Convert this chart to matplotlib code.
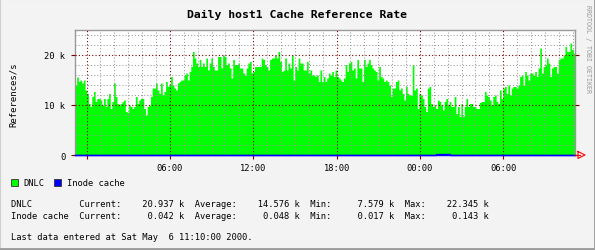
import numpy as np
import matplotlib
matplotlib.use("Agg")
import matplotlib.pyplot as plt
from matplotlib.patches import Rectangle
from matplotlib.lines import Line2D

# DNLC references/s (k), read left to right over 36 hours
dnlc_k = [
    14.0, 15.6, 14.7, 15.0, 14.4, 15.0, 13.0, 12.3, 10.3, 9.7, 11.7, 12.7, 10.7, 11.3, 11.3, 11.0,
    10.0, 11.3, 9.7, 11.3, 12.3, 9.3, 10.7, 14.4, 11.7, 10.3, 10.0, 10.3, 10.7, 11.0, 8.7, 8.5,
    10.0, 9.7, 9.3, 9.7, 11.7, 10.3, 11.0, 11.3, 11.3, 9.3, 8.0, 9.7, 10.0, 11.7, 13.4, 13.4,
    14.4, 13.0, 12.3, 14.4, 12.0, 12.7, 14.7, 13.7, 14.0, 15.7, 14.0, 13.4, 13.0, 14.4, 14.7, 15.0,
    15.0, 16.0, 16.4, 15.0, 16.7, 17.7, 20.7, 19.4, 18.4, 17.7, 19.1, 17.7, 18.4,
    17.7, 19.4, 17.0, 18.4, 19.4, 17.7, 17.0, 17.0, 19.7, 19.7, 17.4, 20.0, 19.7, 18.1, 18.4, 17.4,
    15.4, 19.1, 18.1, 18.1, 18.4, 17.4, 17.4, 16.4, 16.0, 17.4, 18.4, 18.7, 16.4, 16.7, 17.7, 17.7,
    17.7, 17.7, 19.4, 19.1, 18.1, 17.7, 17.0, 19.1, 19.4, 19.4, 20.0, 19.4, 20.7, 18.7, 16.7, 17.0,
    19.4, 17.0, 18.4, 17.4, 20.0, 15.0, 17.7, 17.0, 19.4, 18.4, 18.4, 17.0, 17.0, 18.7, 16.4, 17.0,
    16.0, 16.0, 15.7, 16.0, 14.7, 17.0, 14.7, 15.7, 14.7, 15.4, 16.4,
    16.0, 16.7, 15.7, 17.0, 15.7, 15.4, 15.0, 14.7, 15.4, 18.1, 16.7, 18.4, 18.7, 17.0, 17.4, 15.4,
    19.1, 17.4, 17.4, 14.7, 19.1, 17.7, 18.4, 19.1, 18.1, 17.4, 17.0, 16.7, 15.0, 17.7, 15.7, 15.4,
    14.7, 15.0, 14.7, 14.0, 11.7, 13.4, 13.4, 14.7, 15.0, 13.0, 13.4, 12.3, 11.0, 13.7, 12.3, 12.0,
    12.0, 18.1, 13.0, 13.4, 9.3, 12.3, 12.0, 11.3, 9.7, 8.7, 13.4, 13.7, 10.3, 9.7, 10.0, 9.3,
    11.0, 10.7, 10.0, 9.0, 10.7, 11.3, 10.0, 10.7, 9.7, 9.7, 11.7,
    8.3, 9.7, 7.7, 10.3, 7.7, 9.7, 11.3, 9.7, 10.3, 10.3, 9.7, 9.7, 9.3, 9.3, 10.5, 10.7,
    10.7, 12.7, 12.0, 11.7, 11.0, 10.0, 11.7, 12.0, 10.7, 10.3, 13.0, 11.3, 13.4, 13.7, 12.3, 14.0,
    12.0, 13.4, 13.7, 13.7, 13.4, 14.0, 15.7, 16.0, 14.0, 16.7, 16.0, 15.0, 16.4, 16.4, 16.0, 16.7,
    15.7, 17.4, 21.4, 16.4, 17.7, 18.1, 19.4, 18.4, 15.7, 17.4, 17.7, 17.7, 16.4, 19.1, 19.4, 19.4,
    20.0, 21.7, 20.7, 20.7, 22.4, 21.1, 20.4,
]

# Inode cache references/s (k), hourly
inode_k = [
    0.04, 0.04, 0.04, 0.04, 0.04, 0.04, 0.04, 0.04, 0.04, 0.04, 0.04, 0.04,
    0.04, 0.04, 0.04, 0.04, 0.04, 0.04, 0.04, 0.04, 0.04, 0.04, 0.04, 0.04,
    0.05, 0.04, 0.14, 0.03, 0.06, 0.08, 0.04, 0.02, 0.04, 0.04, 0.04, 0.04,
]

span_h = 36.0
midnight_offset = 50 / 60  # first 00:00 after the 23:10 start
tick_labels = ["", "06:00", "12:00", "18:00", "00:00", "06:00"]
y_major = [0, 10000, 20000]
y_labels = ["0", "10 k", "20 k"]

series_names = ["DNLC", "Inode cache"]
series_colors = ["#00FF00", "#0000FF"]
current = ["20.937 k", "0.042 k"]
average = ["14.576 k", "0.048 k"]
minimum = ["7.579 k", "0.017 k"]
maximum = ["22.345 k", "0.143 k"]
last_update = "Last data entered at Sat May  6 11:10:00 2000."

W, H = 595, 251
fig = plt.figure(figsize=(W / 100, H / 100), dpi=100, facecolor="#F3F3F3")
ax = fig.add_axes([75 / W, 1 - 156 / H, 500 / W, 125 / H])
ax.set_facecolor("white")

mono = "DejaVu Sans Mono"

dn = np.array(dnlc_k) * 1000
edges = np.linspace(0, span_h, len(dn) + 1)
ax.fill_between(edges, np.append(dn, dn[-1]), step="post", color=series_colors[0],
                linewidth=0, zorder=1)
ino = np.array(inode_k) * 1000
ie = np.linspace(0, span_h, len(ino) + 1)
ax.step(ie, np.append(ino, ino[-1]), where="post", color=series_colors[1], lw=1.0,
        zorder=6, clip_on=False)

ax.set_xlim(0, span_h)
ax.set_ylim(0, 25000)

majors = [midnight_offset + 6 * k for k in range(6)]
minors = [midnight_offset + k for k in range(36)]
ax.set_xticks(majors)
ax.set_xticklabels(tick_labels, family=mono, fontsize=6.3)
ax.set_xticks(minors, minor=True)
ax.set_yticks(y_major)
ax.set_yticklabels(y_labels, family=mono, fontsize=6.3)
ax.set_yticks(np.arange(0, 25001, 2000), minor=True)

ax.grid(which="minor", color="#999999", linestyle=(0, (1, 2)), linewidth=0.75, zorder=3)
ax.grid(which="major", color="#7A0000", linestyle=(0, (1, 2)), linewidth=0.8, zorder=4)
ax.set_axisbelow(False)
ax.tick_params(which="major", axis="x", length=3, color="#7A0000", pad=3)
ax.tick_params(which="major", axis="y", length=3, color="#7A0000", pad=4, right=True)
ax.tick_params(which="minor", length=0)

for side in ["left", "top", "right"]:
    ax.spines[side].set_color("#999999")
    ax.spines[side].set_linewidth(1.0)
ax.spines["bottom"].set_color("#0000FF")
ax.spines["bottom"].set_linewidth(1.0)


def fx(x):
    return x / W


def fy(y):
    return 1 - y / H


# axis arrow
fig.add_artist(Line2D([fx(575), fx(580)], [fy(156), fy(156)], color="red", lw=0.8))
fig.add_artist(Line2D([fx(578), fx(585), fx(578), fx(578)],
                      [fy(152.5), fy(156), fy(159.5), fy(152.5)], color="red", lw=0.8))

fig.text(fx(297), fy(15), "Daily host1 Cache Reference Rate", family=mono, weight="bold",
         fontsize=8.2, ha="center", va="center")
fig.text(fx(13), fy(95), "References/s", family=mono, fontsize=6.5, rotation=90,
         ha="center", va="center")
fig.text(fx(588), fy(5), "RRDTOOL / TOBI OETIKER", family=mono, fontsize=4.8, rotation=270,
         ha="center", va="top", color="#999999")

# legend boxes
fig.add_artist(Rectangle((fx(11), fy(187)), 7 / W, 7 / H, facecolor=series_colors[0],
                         edgecolor="#333333", lw=0.6))
fig.text(fx(23), fy(183.5), series_names[0], family=mono, fontsize=6.3, va="center")
fig.add_artist(Rectangle((fx(54), fy(187)), 7 / W, 7 / H, facecolor=series_colors[1],
                         edgecolor="#333333", lw=0.6))
fig.text(fx(67), fy(183.5), series_names[1], family=mono, fontsize=6.3, va="center")

for i, name in enumerate(series_names):
    line = (f"{name:<13}Current:    {current[i]:>8}  Average:    {average[i]:>8}  "
            f"Min:    {minimum[i]:>8}  Max:    {maximum[i]:>8}")
    fig.text(fx(11), fy(204.5 + 12.5 * i), line, family=mono, fontsize=6.3, va="center")
fig.text(fx(11), fy(237), last_update, family=mono, fontsize=6.3, va="center")

# 3d-ish frame
fig.add_artist(Line2D([0, 0, 1], [0, 1, 1], color="#D0D0D0", lw=1.5))
fig.add_artist(Line2D([0, 1, 1], [0.004, 0.004, 1], color="#999999", lw=2.0))

fig.savefig("out.png", dpi=100, facecolor=fig.get_facecolor())
